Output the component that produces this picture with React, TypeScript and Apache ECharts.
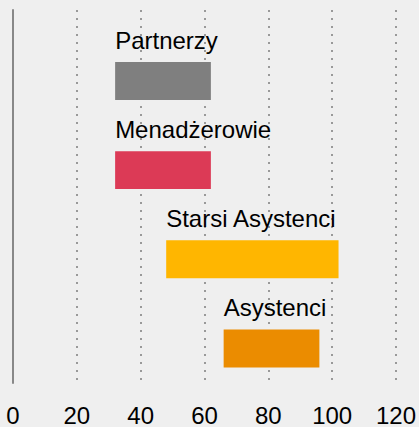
import React, { useEffect, useRef } from "react";
import * as echarts from "echarts";

const categories = ["Partnerzy", "Menadżerowie", "Starsi Asystenci", "Asystenci"];
const startValues = [32, 32, 48, 66];
const endValues = [62, 62, 102, 96];
const barColors = ["#7f7f7f", "#dc3a56", "#ffb600", "#eb8c00"];
const xMin = 0;
const xMax = 120;
const xInterval = 20;

const FONT = "'Liberation Sans', Arial, Helvetica, sans-serif";

export default function App() {
  const ref = useRef<HTMLDivElement>(null);
  useEffect(() => {
    if (!ref.current) return;
    const chart = echarts.init(ref.current, undefined, { renderer: "svg" });
    const data = categories.map((name, i) => ({
      name,
      value: [startValues[i], endValues[i], i],
      itemStyle: { color: barColors[i] },
    }));
    chart.setOption({
      animation: false,
      backgroundColor: "#efefef",
      grid: { left: 13, right: 22, top: 10, bottom: 44, containLabel: false },
      xAxis: {
        type: "value",
        min: xMin,
        max: xMax,
        interval: xInterval,
        axisLine: { show: false, onZero: false },
        axisTick: { show: false },
        axisLabel: { fontSize: 24, color: "#000", fontFamily: FONT, margin: 20 },
        splitLine: {
          show: true,
          lineStyle: { color: "#999", width: 2, type: [2, 6] },
        },
      },
      yAxis: {
        type: "value",
        inverse: true,
        min: -0.796,
        max: 3.387,
        axisLine: { show: true, onZero: false, lineStyle: { color: "#888", width: 2 } },
        axisTick: { show: false },
        axisLabel: { show: false },
        splitLine: { show: false },
      },
      series: [
        {
          type: "custom",
          data,
          encode: { x: [0, 1], y: 2 },
          renderItem: (params: any, api: any) => {
            const idx = api.value(2);
            const s = api.coord([api.value(0), idx]);
            const e = api.coord([api.value(1), idx]);
            const h = api.size([0, 1])[1] * 0.425;
            const top = s[1] - h / 2;
            return {
              type: "group",
              children: [
                {
                  type: "rect",
                  shape: { x: s[0], y: top, width: e[0] - s[0], height: h },
                  style: { fill: barColors[params.dataIndex] },
                },
                {
                  type: "text",
                  x: s[0],
                  y: top - 10,
                  style: {
                    text: categories[params.dataIndex],
                    fontSize: 24,
                    fontFamily: FONT,
                    fill: "#000",
                    align: "left",
                    verticalAlign: "bottom",
                  },
                },
              ],
            };
          },
        },
      ],
    });
    return () => chart.dispose();
  }, []);
  return (
    <div
      ref={ref}
      style={{ position: "fixed", left: 0, top: 0, width: 419, height: 427 }}
    />
  );
}
